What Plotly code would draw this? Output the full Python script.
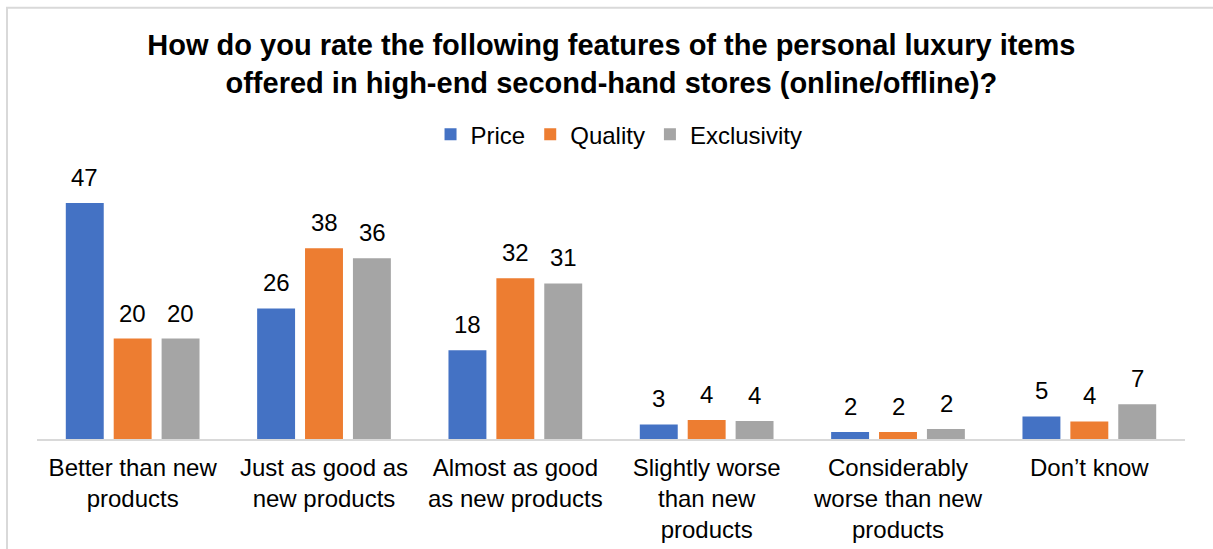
import plotly.graph_objects as go

categories = [
    "Better than new<br>products",
    "Just as good as<br>new products",
    "Almost as good<br>as new products",
    "Slightly worse<br>than new<br>products",
    "Considerably<br>worse than new<br>products",
    "Don\u2019t know",
]
series_names = ["Price", "Quality", "Exclusivity"]
price = [47, 26, 17.7, 2.9, 1.4, 4.5]
quality = [20, 38, 32, 3.8, 1.4, 3.5]
exclusivity = [20, 36, 31, 3.6, 2.0, 6.9]
price_labels = ["47", "26", "18", "3", "2", "5"]
quality_labels = ["20", "38", "32", "4", "2", "4"]
exclusivity_labels = ["20", "36", "31", "4", "2", "7"]
colors = ["#4472C4", "#ED7D31", "#A5A5A5"]

FONT = "Liberation Sans, Arial, sans-serif"
SLOT_PX = 48  # horizontal spacing between bars inside a group (pixels)

all_vals = [price, quality, exclusivity]
all_labels = [price_labels, quality_labels, exclusivity_labels]

fig = go.Figure()
for name, vals, col in zip(series_names, all_vals, colors):
    fig.add_trace(go.Bar(
        name=name, x=categories, y=vals,
        marker=dict(color=col, line=dict(width=0)),
        hoverinfo="x+y+name",
    ))

# data labels above the bars
for i, (vals, labs) in enumerate(zip(all_vals, all_labels)):
    for cat, v, lab in zip(categories, vals, labs):
        fig.add_annotation(
            x=cat, y=v, text=lab, showarrow=False,
            xanchor="center", yanchor="bottom",
            xshift=(i - 1) * SLOT_PX, yshift=10,
            font=dict(family=FONT, size=24, color="#000000"),
        )

fig.update_layout(
    width=1213, height=549,
    paper_bgcolor="white", plot_bgcolor="white",
    margin=dict(l=37, r=28, t=187.5, b=110, autoexpand=False),
    barmode="group", bargap=0.249, bargroupgap=0.208,
    title=dict(
        text="<b>How do you rate the following features of the personal luxury items<br>offered in high-end second-hand stores (online/offline)?</b>",
        x=0.504, xanchor="center", y=0.9, yanchor="middle",
        font=dict(family=FONT, size=29, color="#000000"),
    ),
    legend=dict(
        orientation="h", x=0.507, xanchor="center", y=1.213, yanchor="middle",
        font=dict(family=FONT, size=24, color="#000000"),
        itemwidth=30, traceorder="normal",
    ),
    showlegend=True,
)
fig.update_xaxes(
    showline=True, linecolor="#D9D9D9", linewidth=2,
    tickfont=dict(family=FONT, size=24, color="#000000"),
    ticks="", showgrid=False, automargin=False, ticklabelstandoff=6,
)
fig.update_yaxes(range=[0, 50], visible=False, showgrid=False)

# chart frame border (cropped at right/bottom)
fig.add_shape(type="rect", xref="paper", yref="paper",
              x0=(7 - 37) / 1148, x1=1.2, y0=-0.8, y1=(439 - 7) / 251.5,
              line=dict(color="#D9D9D9", width=2), layer="below")

fig.write_html("out.html", config={"displayModeBar": False},
               post_script="document.body.style.margin='0';")
